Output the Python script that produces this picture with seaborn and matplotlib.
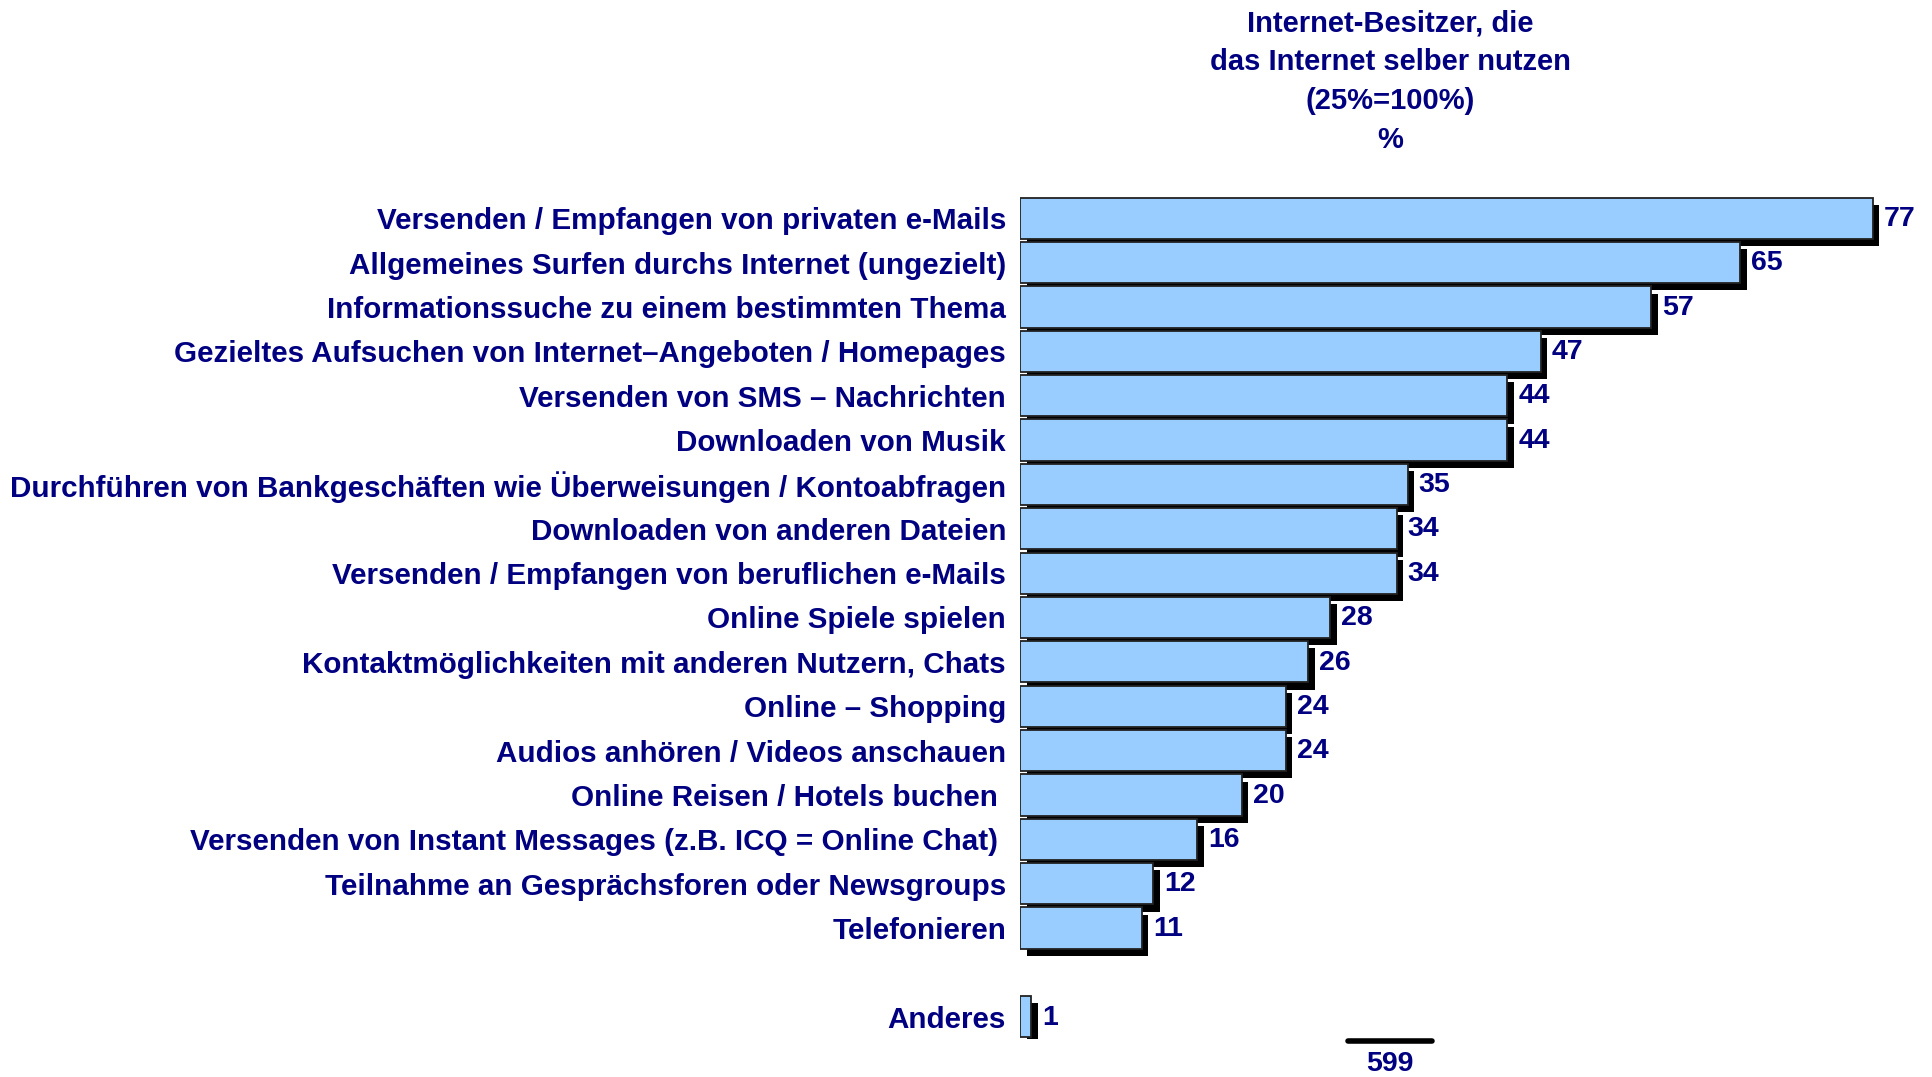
import seaborn as sns
import pandas as pd
import matplotlib.pyplot as plt
import matplotlib.patheffects as pe
from matplotlib.lines import Line2D

# data
labels = [
    "Versenden / Empfangen von privaten e-Mails",
    "Allgemeines Surfen durchs Internet (ungezielt)",
    "Informationssuche zu einem bestimmten Thema",
    "Gezieltes Aufsuchen von Internet\u2013Angeboten / Homepages",
    "Versenden von SMS \u2013 Nachrichten",
    "Downloaden von Musik",
    "Durchf\u00fchren von Bankgesch\u00e4ften wie \u00dcberweisungen / Kontoabfragen",
    "Downloaden von anderen Dateien",
    "Versenden / Empfangen von beruflichen e-Mails",
    "Online Spiele spielen",
    "Kontaktm\u00f6glichkeiten mit anderen Nutzern, Chats",
    "Online \u2013 Shopping",
    "Audios anh\u00f6ren / Videos anschauen",
    "Online Reisen / Hotels buchen ",
    "Versenden von Instant Messages (z.B. ICQ = Online Chat) ",
    "Teilnahme an Gespr\u00e4chsforen oder Newsgroups",
    "Telefonieren",
    "Anderes",
]
values = [77, 65, 57, 47, 44, 44, 35, 34, 34, 28, 26, 24, 24, 20, 16, 12, 11, 1]
basis = 599
title = "Internet-Besitzer, die\ndas Internet selber nutzen\n(25%=100%)\n%"

navy = "#000080"
fill = "#99CCFF"

# empty slot between the main block and "Anderes"
order = labels[:-1] + [""] + labels[-1:]
df = pd.DataFrame({"label": labels, "value": values})

sns.set_style("white")
plt.rcParams['font.family'] = ['Liberation Sans', 'DejaVu Sans']
plt.rcParams['font.weight'] = 'bold'

W, H = 1932, 1077
fig = plt.figure(figsize=(W / 100, H / 100), dpi=100)
ax = fig.add_axes([1020 / W, 1 - 1039 / H, 886 / W, 843 / H])

sns.barplot(data=df, x="value", y="label", order=order, orient="h",
            color=fill, saturation=1, width=0.93, edgecolor="#222222",
            linewidth=1.3, errorbar=None, ax=ax)

shadow = [pe.SimplePatchShadow(offset=(4.8, -5.2), shadow_rgbFace="black", alpha=1),
          pe.Normal()]
for p in ax.patches:
    p.set_path_effects(shadow)

for p in ax.patches:
    w = p.get_width()
    if w != w:  # nan
        continue
    ax.annotate(f"{w:.0f}", (w, p.get_y() + p.get_height() / 2),
                xytext=(8, -0.5), textcoords="offset points",
                ha="left", va="center", fontsize=20.5, color=navy, fontweight="bold")

ax.set_xlim(0, 80)
ax.set_xlabel("")
ax.set_ylabel("")
ax.set_xticks([])
ax.tick_params(axis="y", length=0, pad=10, labelsize=21.3, labelcolor=navy)
for t in ax.get_yticklabels():
    t.set_fontweight("bold")
sns.despine(ax=ax, left=True, bottom=True)

fig.text(1390 / W, 1 - 9 / H, title, ha="center", va="top", fontsize=21,
         color=navy, fontweight="bold", linespacing=1.5)

fig.add_artist(Line2D([1348 / W, 1432 / W], [1 - 1041 / H, 1 - 1041 / H],
                      color="black", linewidth=4))
fig.text(1390 / W, 1 - 1064 / H, str(basis), ha="center", va="center",
         fontsize=20.5, color=navy, fontweight="bold")

fig.savefig("out.png", dpi=100)
